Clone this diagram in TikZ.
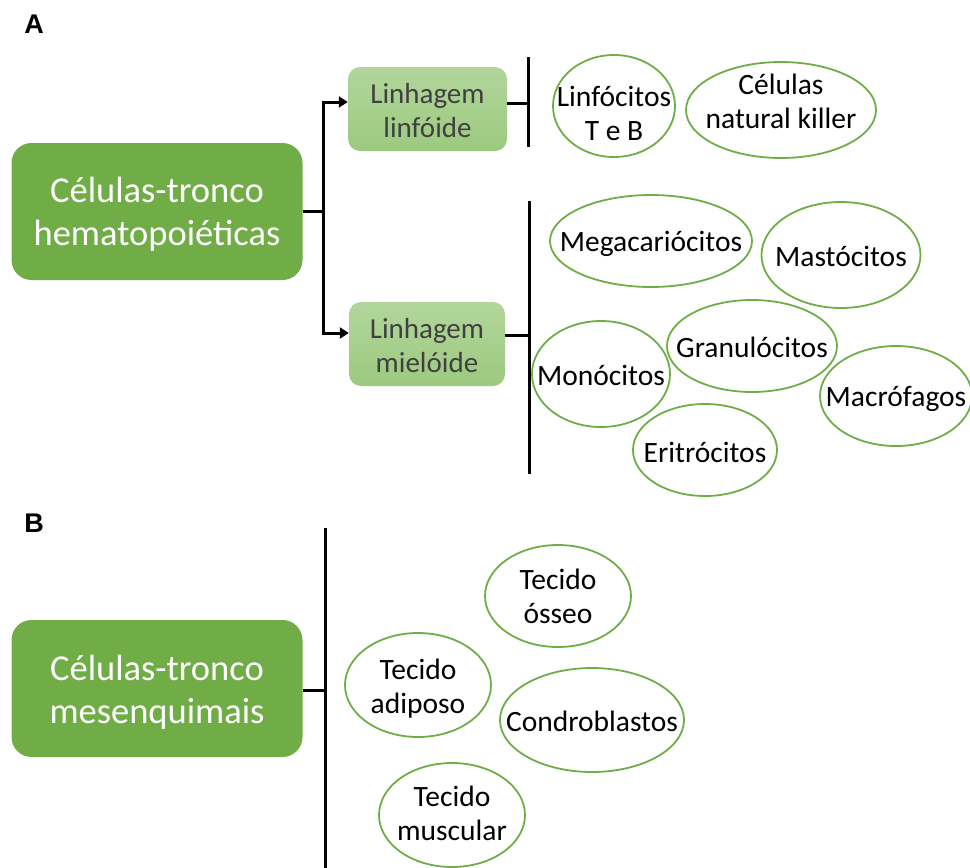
\documentclass[tikz,border=0pt]{standalone}
\usepackage{fontspec}
\setmainfont{Carlito}
\newfontfamily\labelfont{Liberation Sans}
\usetikzlibrary{arrows.meta}

\definecolor{stemgreen}{HTML}{70AD47}
\definecolor{lineagetop}{HTML}{B2D69C}
\definecolor{lineagebot}{HTML}{9CC97F}
\definecolor{lineagetext}{HTML}{404040}

\tikzset{
  stembox/.style={rounded corners=20pt, fill=stemgreen, draw=none,
    minimum width=291pt, minimum height=137pt, inner sep=0pt},
  stemtext/.style={inner sep=0pt, text=white, align=center,
    font=\fontsize{36.5}{43}\selectfont},
  lineagebox/.style={rounded corners=12pt, top color=lineagetop,
    bottom color=lineagebot, draw=none, inner sep=0pt, minimum height=84pt},
  lineagetxt/.style={inner sep=0pt, text=lineagetext, align=center,
    font=\fontsize{29}{34}\selectfont},
  celltext/.style={inner sep=0pt, align=center,
    font=\fontsize{29.5}{34}\selectfont},
  cellring/.style={draw=stemgreen, line width=1.8pt},
  conn/.style={line width=3pt, black},
  panel/.style={font=\labelfont\bfseries\fontsize{27}{30}\selectfont},
}

\begin{document}
\begin{tikzpicture}[x=1pt,y=-1pt]
\useasboundingbox (0,0) rectangle (970,868);

% panel letters
\node[panel] (labA) at (34,24) {A};
\node[panel] (labB) at (34,523) {B};

% ---------- A: haematopoietic stem cells ----------
\node[stembox] (hsc) at (157,211.5) {};
\node[stemtext] (hscT) at ([yshift=-3pt]hsc.center) {Células-tronco\\hematopoiéticas};
\node[lineagebox, minimum width=159pt] (lin) at (427.5,109) {};
\node[lineagetxt] (linT) at ([yshift=-2pt]lin.center) {Linhagem\\linfóide};
\node[lineagebox, minimum width=156pt] (mie) at (427,344) {};
\node[lineagetxt] (mieT) at ([yshift=-2pt]mie.center) {Linhagem\\mielóide};

\coordinate (split) at (323,211.5);
\draw[conn] (hsc.east) -- (split);
\draw[conn, {Triangle[length=9pt,width=11pt]}-{Triangle[length=9pt,width=11pt]}]
  ([yshift=7pt]lin.west) -| (split) |- ([yshift=11pt]mie.west);

% lymphoid branch
\coordinate (lbTop) at (528,57);
\coordinate (lbBot) at (528,147);
\draw[conn] (lbTop) -- (lbBot);
\draw[conn] ([yshift=6pt]lin.east) -- ([yshift=6pt]lin.east -| lbTop);

\node[celltext] (linf) at (614,113) {Linfócitos\\T e B};
\draw[cellring] ([yshift=7pt]linf.center) ellipse [x radius=61, y radius=51];
\node[celltext] (nk) at (781,101) {Células\\natural killer};
\draw[cellring] ([yshift=-9pt]nk.center) ellipse [x radius=95, y radius=48];

% myeloid branch
\coordinate (mbTop) at (529,201);
\coordinate (mbBot) at (529,474);
\draw[conn] (mbTop) -- (mbBot);
\draw[conn] ([yshift=9pt]mie.east) -- ([yshift=9pt]mie.east -| mbTop);

\node[celltext] (mega) at (651,244) {Megacariócitos};
\draw[cellring] ([yshift=3pt]mega.center) ellipse [x radius=101, y radius=46];
\node[celltext] (mast) at (841,256) {Mastócitos};
\draw[cellring] ([yshift=1pt]mast.center) ellipse [x radius=79.5, y radius=53];
\node[celltext] (gran) at (752,347) {Granulócitos};
\draw[cellring] ([yshift=1pt]gran.center) ellipse [x radius=85, y radius=46];
\node[celltext] (mono) at (601,375) {Monócitos};
\draw[cellring] ([yshift=1pt]mono.center) ellipse [x radius=69, y radius=53];
\node[celltext] (macro) at (896,399) {Macrófagos};
\draw[cellring] ([yshift=3pt]macro.center) ellipse [x radius=76, y radius=50];
\node[celltext] (eri) at (705,452) {Eritrócitos};
\draw[cellring] ([yshift=2pt]eri.center) ellipse [x radius=72, y radius=46];

% ---------- B: mesenchymal stem cells ----------
\node[stembox] (msc) at (157,688.5) {};
\node[stemtext] (mscT) at ([yshift=-4pt]msc.center) {Células-tronco\\mesenquimais};
\coordinate (bbTop) at (325,528);
\coordinate (bbBot) at (325,868);
\draw[conn] (bbTop) -- (bbBot);
\draw[conn] ([yshift=-1.5pt]msc.east) -- ([yshift=-1.5pt]msc.east -| bbTop);

\node[celltext] (osseo) at (558,596) {Tecido\\ósseo};
\draw[cellring] (osseo.center) ellipse [x radius=73, y radius=51];
\node[celltext] (adip) at (418,689) {Tecido\\adiposo};
\draw[cellring] ([yshift=4pt]adip.center) ellipse [x radius=73, y radius=52];
\node[celltext] (condro) at (592,721) {Condroblastos};
\draw[cellring] ([yshift=1pt]condro.center) ellipse [x radius=92, y radius=52];
\node[celltext] (musc) at (452,813) {Tecido\\muscular};
\draw[cellring] ([yshift=-2pt]musc.center) ellipse [x radius=73, y radius=52];
\end{tikzpicture}
\end{document}
